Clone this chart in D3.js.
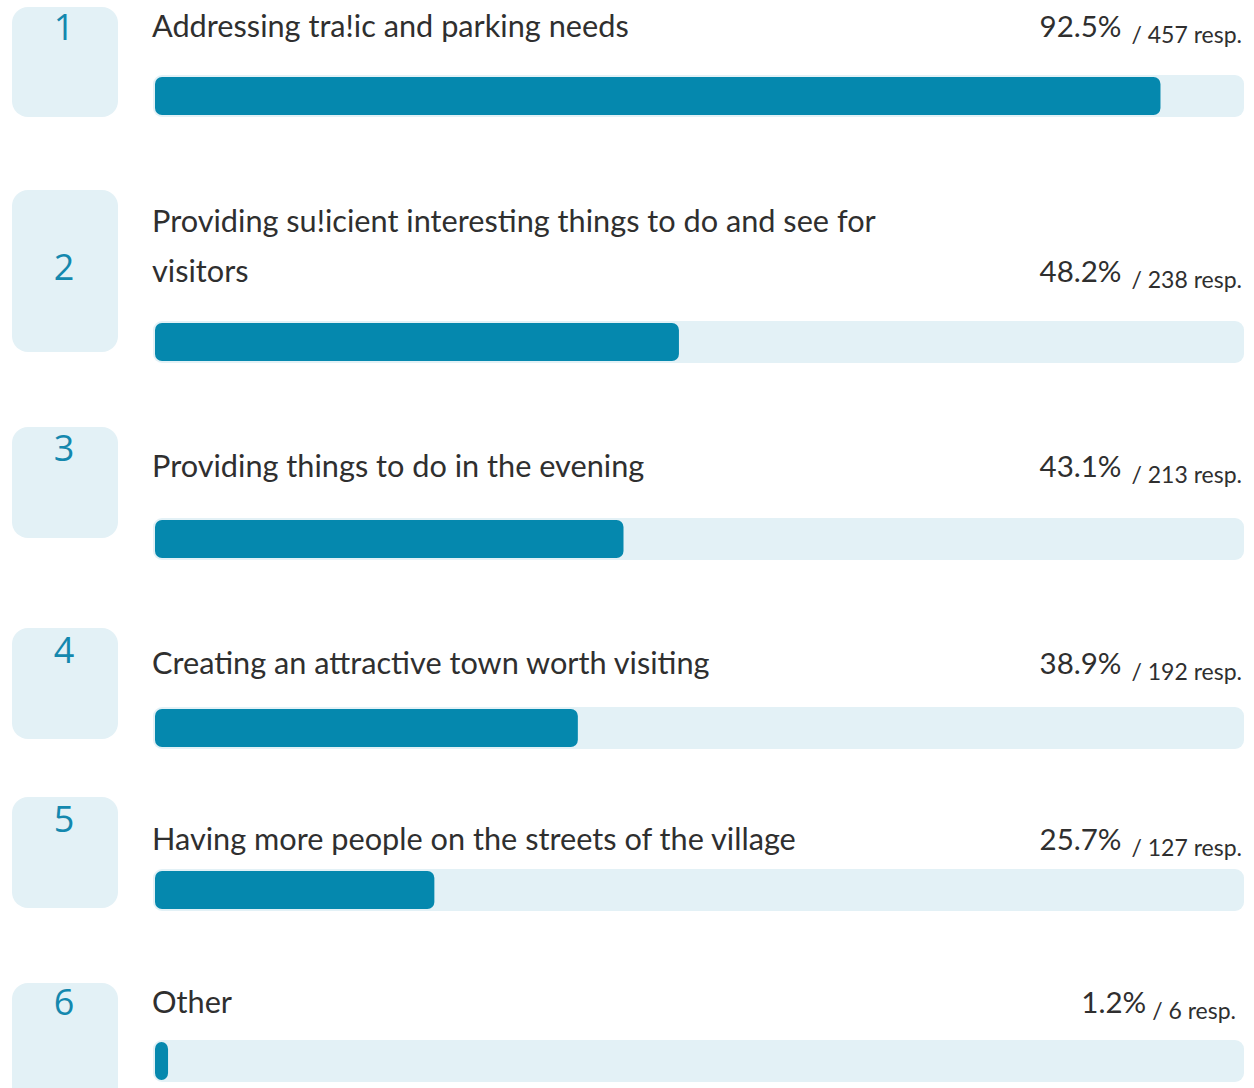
<!DOCTYPE html>
<html>
<head>
<meta charset="utf-8">
<script src="https://cdn.jsdelivr.net/npm/d3@7"></script>
<style>
  html, body { margin: 0; padding: 0; background: #ffffff; }
  svg { display: block; }
</style>
</head>
<body>
<svg id="chart" width="1254" height="1088"></svg>
<script>
// ---- data ----
const ranks = [1, 2, 3, 4, 5, 6];
const labels = [
  ["Addressing tra!ic and parking needs"],
  ["Providing su!icient interesting things to do and see for", "visitors"],
  ["Providing things to do in the evening"],
  ["Creating an attractive town worth visiting"],
  ["Having more people on the streets of the village"],
  ["Other"]
];
const percents = [92.5, 48.2, 43.1, 38.9, 25.7, 1.2];
const responses = [457, 238, 213, 192, 127, 6];

// ---- layout (vertical positions of each row) ----
const rowLayout = [
  { box: 7,   boxH: 110, num: 40,  text: 37,  bar: 75 },
  { box: 190, boxH: 162, num: 280, text: 282, bar: 321 },
  { box: 427, boxH: 111, num: 461, text: 477, bar: 518 },
  { box: 628, boxH: 111, num: 663, text: 674, bar: 707 },
  { box: 797, boxH: 111, num: 832, text: 850, bar: 869 },
  { box: 983, boxH: 130, num: 1015, text: 1013, bar: 1040 }
];

const C = {
  light: "#e3f1f6",
  bar: "#0588ae",
  num: "#1488ae",
  text: "#2f2f2f"
};

const svg = d3.select("#chart");
const x = d3.scaleLinear().domain([0, 100]).range([155, 1242]);

const rows = ranks.map((r, i) => ({
  rank: r, label: labels[i], pct: percents[i], resp: responses[i], L: rowLayout[i]
}));

const g = svg.selectAll("g.row").data(rows).join("g").attr("class", "row");

// rank box
g.append("rect")
  .attr("x", 12).attr("y", d => d.L.box)
  .attr("width", 106).attr("height", d => d.L.boxH)
  .attr("rx", 16).attr("ry", 16)
  .attr("fill", C.light);

g.append("text")
  .attr("x", 64).attr("y", d => d.L.num)
  .attr("text-anchor", "middle")
  .attr("font-family", "'Open Sans', 'Noto Sans', sans-serif")
  .attr("font-size", 36)
  .attr("fill", C.num)
  .text(d => d.rank);

// label
g.each(function(d) {
  const t = d3.select(this).append("text")
    .attr("font-family", "Lato, 'Open Sans', sans-serif")
    .attr("font-size", 30.7)
    .attr("fill", C.text);
  const n = d.label.length;
  d.label.forEach((line, j) => {
    t.append("tspan")
      .attr("x", 152)
      .attr("y", d.L.text - (n - 1 - j) * 50)
      .text(line);
  });
});

// percent + responses
const vt = g.append("text")
  .attr("x", d => d.resp < 10 ? 1236 : 1242)
  .attr("y", d => d.L.text)
  .attr("text-anchor", "end")
  .attr("font-family", "Lato, 'Open Sans', sans-serif")
  .attr("fill", C.text);
vt.append("tspan")
  .attr("font-size", 29.5)
  .text(d => d.pct.toFixed(1) + "%");
vt.append("tspan")
  .attr("font-size", 23)
  .attr("dx", d => d.resp < 10 ? 6 : 10)
  .attr("dy", 6)
  .text(d => "/ " + d.resp + " resp.");

// bar track
g.append("rect")
  .attr("x", 153).attr("y", d => d.L.bar)
  .attr("width", 1244 - 153).attr("height", 42)
  .attr("rx", 9).attr("ry", 9)
  .attr("fill", C.light);

// bar fill
g.append("rect")
  .attr("x", x(0)).attr("y", d => d.L.bar + 2)
  .attr("width", d => x(d.pct) - x(0)).attr("height", 38)
  .attr("rx", 7).attr("ry", 7)
  .attr("fill", C.bar);
</script>
</body>
</html>
